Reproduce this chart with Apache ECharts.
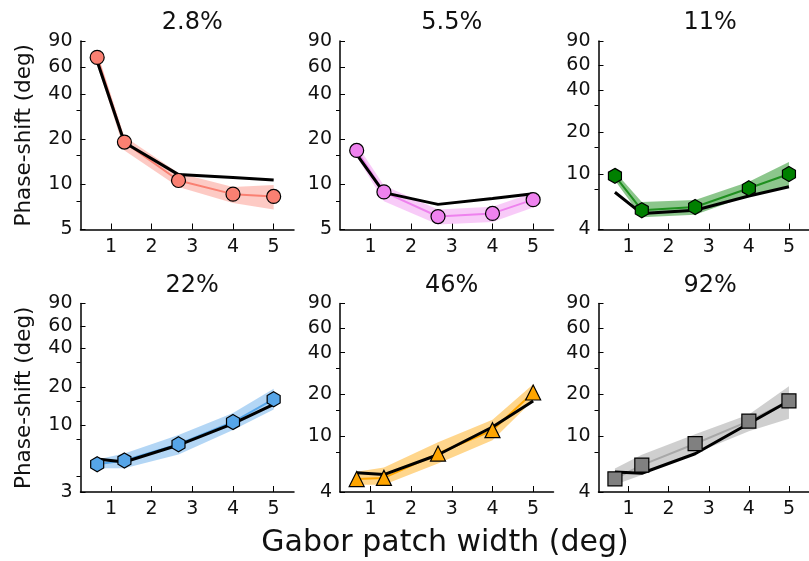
<!DOCTYPE html>
<html>
<head>
<meta charset="utf-8">
<script src="https://cdn.jsdelivr.net/npm/echarts@6.0.0/dist/echarts.min.js"></script>
<style>
html,body{margin:0;padding:0;background:#fff;}
#chart{width:809px;height:561px;}
</style>
</head>
<body>
<div id="chart"></div>
<script>
// x positions (Gabor patch width, deg)
var widths = [0.66, 1.33, 2.66, 4.0, 5.0];
var titles = ['2.8%', '5.5%', '11%', '22%', '46%', '92%'];
var yMins = [5, 5, 4, 3, 4, 4];
var majorTicks = [10, 20, 40, 60, 90];
var minorTicks = [4, 7.75, 15.5, 31];
var xTicks = [1, 2, 3, 4, 5];

// measured phase-shift (markers), model (black), band low / high
var p1Data = [70, 19.1, 10.6, 8.6, 8.3];
var p1Model = [66, 19, 11.6, 11.1, 10.7];
var p1Lo = [63, 16.8, 9.6, 7.5, 6.8];
var p1Hi = [76, 20.8, 11.9, 9.6, 9.9];

var p2Data = [16.8, 8.9, 6.1, 6.4, 7.9];
var p2Model = [15.8, 8.8, 7.35, 8.05, 8.65];
var p2Lo = [15.3, 7.7, 5.4, 5.6, 7.0];
var p2Hi = [18.5, 9.8, 6.8, 7.1, 8.8];

var p3Data = [9.7, 5.5, 5.8, 7.9, 10.0];
var p3Model = [7.4, 5.2, 5.5, 6.95, 8.1];
var p3Lo = [9.0, 4.9, 5.1, 7.0, 8.2];
var p3Hi = [10.4, 6.3, 6.5, 8.8, 12.2];

var p4Data = [4.95, 5.3, 7.1, 10.6, 16.0];
var p4Model = [5.45, 5.15, 7.0, 10.3, 14.6];
var p4Lo = [4.6, 4.6, 5.9, 9.2, 13.3];
var p4Hi = [5.4, 6.0, 8.4, 12.5, 19.3];

var p5Data = [4.95, 5.05, 7.55, 11.1, 20.7];
var p5Model = [5.5, 5.33, 7.4, 11.7, 18.0];
var p5Lo = [4.5, 4.5, 6.4, 9.4, 18.2];
var p5Hi = [5.6, 6.0, 9.1, 13.2, 23.7];

var p6Data = [4.97, 6.24, 8.88, 12.9, 18.0];
var p6Model = [5.57, 5.45, 7.52, 12.4, 18.0];
var p6Lo = [4.5, 5.3, 7.6, 10.9, 13.4];
var p6Hi = [5.9, 7.4, 10.4, 14.4, 22.9];

var hexagon = 'path://M0,-10 L8.66,-5 L8.66,5 L0,10 L-8.66,5 L-8.66,-5 Z';

var panels = [
	{data: p1Data, model: p1Model, lo: p1Lo, hi: p1Hi, color: '#fa8072', line: '#fa8072', band: 'rgba(250,128,114,0.42)', symbol: 'circle', size: 14},
	{data: p2Data, model: p2Model, lo: p2Lo, hi: p2Hi, color: '#ee82ee', line: '#ee82ee', band: 'rgba(238,130,238,0.42)', symbol: 'circle', size: 14},
	{data: p3Data, model: p3Model, lo: p3Lo, hi: p3Hi, color: '#008000', line: '#1f8f1f', band: 'rgba(0,128,0,0.45)', symbol: hexagon, size: 15},
	{data: p4Data, model: p4Model, lo: p4Lo, hi: p4Hi, color: '#56a5e8', line: '#56a5e8', band: 'rgba(86,165,232,0.45)', symbol: hexagon, size: 15},
	{data: p5Data, model: p5Model, lo: p5Lo, hi: p5Hi, color: '#ffa500', line: '#ffa500', band: 'rgba(255,165,0,0.45)', symbol: 'triangle', size: 15},
	{data: p6Data, model: p6Model, lo: p6Lo, hi: p6Hi, color: '#808080', line: '#a8a8a8', band: 'rgba(128,128,128,0.38)', symbol: 'rect', size: 14}
];

var FONT = 'DejaVu Sans';
var lefts = [80.5, 340, 598.5];
var tops = [41, 303.5];
var W = 213.5, H = 188.5;

function lg(v) { return Math.log10(v); }
function pts(arr) {
	return arr.map(function(v, i) { return [widths[i], lg(v)]; });
}

// shaded band as one polygon, built through the axis coords
function bandRenderer(p) {
	return function(params, api) {
		if (params.dataIndex !== 0) return;
		var up = [], down = [];
		for (var k = 0; k < widths.length; k++) {
			up.push(api.coord([widths[k], lg(p.hi[k])]));
			down.unshift(api.coord([widths[k], lg(p.lo[k])]));
		}
		return {
			type: 'polygon',
			shape: {points: up.concat(down)},
			style: {fill: p.band, stroke: null}
		};
	};
}

var grid = [], xAxis = [], yAxis = [], series = [], title = [];
panels.forEach(function(p, i) {
	var col = i % 3, row = Math.floor(i / 3);
	grid.push({left: lefts[col], top: tops[row], width: W, height: H, containLabel: false});
	title.push({
		text: titles[i], left: lefts[col] + W / 2, top: tops[row] - 35, textAlign: 'center',
		textStyle: {fontFamily: FONT, fontSize: 24, fontWeight: 'normal', color: '#111'}
	});
	xAxis.push({
		type: 'value', gridIndex: i, min: 0.25, max: 5.5,
		axisLine: {lineStyle: {color: '#000', width: 1.5}},
		axisTick: {inside: true, length: 6, customValues: xTicks, lineStyle: {color: '#000', width: 1}},
		axisLabel: {customValues: xTicks, fontFamily: FONT, fontSize: 19, color: '#111', margin: 8},
		splitLine: {show: false}
	});
	var ymin = lg(yMins[i]), ymax = lg(90);
	var labs = [yMins[i]].concat(majorTicks).map(lg);
	var mins = minorTicks.filter(function(v) { return v > yMins[i]; }).map(lg);
	yAxis.push({
		type: 'value', gridIndex: i, position: 'left', min: ymin, max: ymax,
		name: col === 0 ? 'Phase-shift (deg)' : '', nameLocation: 'middle', nameGap: 45,
		nameTextStyle: {fontFamily: FONT, fontSize: 21.5, color: '#111'},
		axisLine: {lineStyle: {color: '#000', width: 1.5}},
		axisTick: {inside: true, length: 5, customValues: labs, lineStyle: {color: '#000', width: 1}},
		axisLabel: {
			customValues: labs, fontFamily: FONT, fontSize: 19, color: '#111', margin: 8,
			formatter: function(v) { return String(Math.round(Math.pow(10, v))); }
		},
		splitLine: {show: false}
	});
	yAxis.push({
		type: 'value', gridIndex: i, position: 'left', offset: 0, min: ymin, max: ymax,
		axisLine: {show: false},
		axisTick: {inside: false, length: 4, customValues: mins, lineStyle: {color: '#000', width: 1}},
		axisLabel: {show: false},
		splitLine: {show: false}
	});
	var yi = i * 2;
	series.push({
		type: 'custom', xAxisIndex: i, yAxisIndex: yi, silent: true,
		renderItem: bandRenderer(p), data: pts(p.data), z: 1
	});
	series.push({
		type: 'line', xAxisIndex: i, yAxisIndex: yi, symbol: 'none',
		lineStyle: {color: p.line, width: 2}, data: pts(p.data), z: 2
	});
	series.push({
		type: 'line', xAxisIndex: i, yAxisIndex: yi, symbol: 'none',
		lineStyle: {color: '#000', width: 3}, data: pts(p.model), z: 3
	});
	series.push({
		type: 'scatter', xAxisIndex: i, yAxisIndex: yi, symbol: p.symbol, symbolSize: p.size,
		symbolKeepAspect: true,
		itemStyle: {color: p.color, borderColor: '#000', borderWidth: 1.2, opacity: 1},
		data: pts(p.data), z: 5
	});
});

var chart = echarts.init(document.getElementById('chart'), null, {renderer: 'canvas'});
chart.setOption({
	animation: false,
	backgroundColor: '#fff',
	title: title,
	grid: grid,
	xAxis: xAxis,
	yAxis: yAxis,
	series: series,
	graphic: [{
		type: 'text', x: 445, y: 543,
		style: {text: 'Gabor patch width (deg)', font: '30px "DejaVu Sans"', fill: '#111', textAlign: 'center', textVerticalAlign: 'middle'}
	}]
});
</script>
</body>
</html>
